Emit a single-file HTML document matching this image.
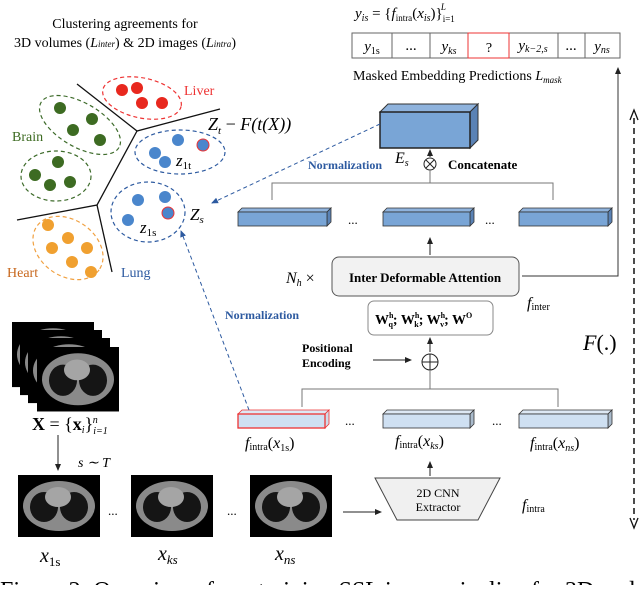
<!DOCTYPE html>
<html><head><style>
body{margin:0;background:#fff}
svg text{font-family:"Liberation Serif",serif}
.s{font-family:"Liberation Serif",serif}
.i{font-style:italic}
</style></head><body>
<svg width="640" height="585" viewBox="0 0 640 585" xmlns="http://www.w3.org/2000/svg">
<defs>
<marker id="a" markerWidth="8" markerHeight="8" refX="6" refY="4" orient="auto"><path d="M0,1 L7,4 L0,7z" fill="#222"/></marker>
<marker id="b" markerWidth="8" markerHeight="8" refX="6" refY="4" orient="auto"><path d="M0,1 L7,4 L0,7z" fill="#2d5aa0"/></marker>
<g id="ct"><rect x="0" y="0" width="82" height="62" fill="#000"/><ellipse cx="41" cy="31" rx="36" ry="25" fill="#8a8a8a"/><ellipse cx="26" cy="32" rx="14" ry="15" fill="#151515"/><ellipse cx="56" cy="32" rx="14" ry="15" fill="#151515"/><ellipse cx="40" cy="22" rx="13" ry="10" fill="#a5a5a5"/></g>
</defs>
<!-- title -->
<text x="125" y="28" font-size="14" text-anchor="middle">Clustering agreements for</text>
<text x="125" y="47" font-size="14" text-anchor="middle">3D volumes (<tspan class="i">L</tspan><tspan font-size="9" class="i">inter</tspan>) &amp; 2D images (<tspan class="i">L</tspan><tspan font-size="9" class="i">intra</tspan>)</text>
<!-- separators -->
<g stroke="#111" stroke-width="1.3" fill="none">
<path d="M77,84 L137,131 L220,109"/><path d="M137,131 L97,205 L17,220"/><path d="M97,205 L112,272"/>
</g>
<!-- clusters -->
<g fill="none" stroke-dasharray="4,3" stroke-width="1.2">
<ellipse cx="142" cy="98" rx="40" ry="20" transform="rotate(12 142 98)" stroke="#e33"/>
<ellipse cx="80" cy="125" rx="45" ry="22" transform="rotate(30 80 125)" stroke="#3d6b2a"/>
<ellipse cx="56" cy="176" rx="35" ry="25" stroke="#3d6b2a"/>
<ellipse cx="180" cy="152" rx="45" ry="22" stroke="#2d5aa0"/>
<ellipse cx="148" cy="212" rx="37" ry="30" stroke="#2d5aa0"/>
<ellipse cx="68" cy="248" rx="38" ry="28" transform="rotate(35 68 248)" stroke="#f0a040"/>
</g>
<g fill="#e8281e"><circle cx="122" cy="90" r="6"/><circle cx="137" cy="88" r="6"/><circle cx="142" cy="103" r="6"/><circle cx="162" cy="103" r="6"/></g>
<g fill="#3d6b22"><circle cx="60" cy="108" r="6"/><circle cx="92" cy="119" r="6"/><circle cx="73" cy="130" r="6"/><circle cx="100" cy="140" r="6"/><circle cx="58" cy="162" r="6"/><circle cx="35" cy="175" r="6"/><circle cx="50" cy="185" r="6"/><circle cx="70" cy="182" r="6"/></g>
<g fill="#4a86cc"><circle cx="178" cy="140" r="6"/><circle cx="155" cy="153" r="6"/><circle cx="165" cy="162" r="6"/><circle cx="203" cy="145" r="6" stroke="#e33"/><circle cx="138" cy="200" r="6"/><circle cx="165" cy="197" r="6"/><circle cx="128" cy="220" r="6"/><circle cx="168" cy="213" r="6" stroke="#e33"/></g>
<g fill="#f0a030"><circle cx="48" cy="225" r="6"/><circle cx="68" cy="238" r="6"/><circle cx="52" cy="248" r="6"/><circle cx="87" cy="248" r="6"/><circle cx="72" cy="262" r="6"/><circle cx="91" cy="272" r="6"/></g>
<text x="184" y="95" font-size="14" fill="#e33">Liver</text>
<text x="12" y="141" font-size="14" fill="#3d6b22">Brain</text>
<text x="7" y="277" font-size="14" fill="#c8681e">Heart</text>
<text x="121" y="277" font-size="14" fill="#2d5aa0">Lung</text>
<text x="208" y="130" font-size="18" class="i">Z<tspan font-size="11" dy="4">t</tspan><tspan dy="-4" font-style="normal"> − </tspan>F(t(X))</text>
<text x="176" y="166" font-size="17" class="i">z<tspan font-size="11" dy="3" font-style="normal">1t</tspan></text>
<text x="140" y="233" font-size="17" class="i">z<tspan font-size="11" dy="3" font-style="normal">1s</tspan></text>
<text x="190" y="220" font-size="17" class="i">Z<tspan font-size="11" dy="3">s</tspan></text>
<!-- token row -->
<text x="355" y="18" font-size="15" class="i">y<tspan font-size="10" dy="3">is</tspan><tspan dy="-3" font-style="normal"> = {</tspan>f<tspan font-size="9" dy="3" font-style="normal">intra</tspan><tspan dy="-3" font-style="normal">(</tspan>x<tspan font-size="10" dy="3">is</tspan><tspan dy="-3" font-style="normal">)}</tspan><tspan font-size="9" dy="4" font-style="normal">i=1</tspan><tspan font-size="9" dy="-12" dx="-14">L</tspan></text>
<g stroke="#666" fill="#fff" stroke-width="1"><rect x="352" y="33" width="268" height="25"/>
<line x1="392" y1="33" x2="392" y2="58"/><line x1="430" y1="33" x2="430" y2="58"/><line x1="558" y1="33" x2="558" y2="58"/><line x1="585" y1="33" x2="585" y2="58"/></g>
<rect x="468" y="33" width="41" height="25" fill="none" stroke="#e33"/>
<g font-size="15" text-anchor="middle"><text x="372" y="51" class="i">y<tspan font-size="10" dy="3" font-style="normal">1s</tspan></text><text x="411" y="50">...</text><text x="449" y="51" class="i">y<tspan font-size="10" dy="3">ks</tspan></text><text x="489" y="52" font-size="14">?</text><text x="533" y="50" class="i">y<tspan font-size="10" dy="2">k−2,s</tspan></text><text x="571" y="50">...</text><text x="602" y="51" class="i">y<tspan font-size="10" dy="2">ns</tspan></text></g>
<text x="353" y="80" font-size="14">Masked Embedding Predictions <tspan class="i">L</tspan><tspan font-size="9" class="i" dy="3">mask</tspan></text>
<!-- Es box -->
<path d="M380,112 L388,104 L478,104 L470,112z" fill="#8fb3dd" stroke="#333"/>
<path d="M470,112 L478,104 L478,140 L470,148z" fill="#5a82b5" stroke="#333"/>
<rect x="380" y="112" width="90" height="36" fill="#79a5d6" stroke="#222" stroke-width="1.5"/>
<text x="395" y="163" font-size="16" class="i">E<tspan font-size="10" dy="3">s</tspan></text>
<circle cx="430" cy="164" r="6" fill="none" stroke="#222"/><path d="M426,160 L434,168 M434,160 L426,168" stroke="#222"/>
<line x1="430" y1="157" x2="430" y2="150" stroke="#222" marker-end="url(#a)"/>
<text x="448" y="169" font-size="13" font-weight="bold">Concatenate</text>
<text x="308" y="169" font-size="12" font-weight="bold" fill="#2d5aa0">Normalization</text>
<g stroke="#777" fill="none"><path d="M272,200 L272,183 L553,183 L553,200"/><line x1="430" y1="183" x2="430" y2="170"/></g>
<!-- middle bars -->
<g stroke="#333" stroke-width="0.8">
<g><path d="M238,212 L242,208 L331,208 L327,212z" fill="#8fb3dd"/><path d="M327,212 L331,208 L331,222 L327,226z" fill="#5a82b5"/><rect x="238" y="212" width="89" height="14" fill="#79a5d6"/></g>
<g><path d="M383,212 L387,208 L474,208 L470,212z" fill="#8fb3dd"/><path d="M470,212 L474,208 L474,222 L470,226z" fill="#5a82b5"/><rect x="383" y="212" width="87" height="14" fill="#79a5d6"/></g>
<g><path d="M519,212 L523,208 L612,208 L608,212z" fill="#8fb3dd"/><path d="M608,212 L612,208 L612,222 L608,226z" fill="#5a82b5"/><rect x="519" y="212" width="89" height="14" fill="#79a5d6"/></g>
</g>
<text x="348" y="224" font-size="13">...</text><text x="485" y="224" font-size="13">...</text>
<line x1="430" y1="255" x2="430" y2="238" stroke="#222" marker-end="url(#a)"/>
<rect x="332" y="257" width="187" height="39" rx="7" fill="#f2f2f2" stroke="#555"/>
<text x="425" y="282" font-size="13" font-weight="bold" text-anchor="middle">Inter Deformable Attention</text>
<text x="286" y="283" font-size="16" class="i">N<tspan font-size="10" dy="3">h</tspan><tspan dy="-3" font-style="normal"> ×</tspan></text>
<path d="M522,276 L618,276 L618,68" fill="none" stroke="#333" marker-end="url(#a)"/>
<text x="527" y="308" font-size="16" class="i">f<tspan font-size="10" dy="2" font-style="normal">inter</tspan></text>
<!-- W box -->
<rect x="368" y="301" width="125" height="34" rx="6" fill="#fff" stroke="#888"/>
<text x="375" y="324" font-size="14" font-weight="bold">W<tspan font-size="8" dy="-6">h</tspan><tspan font-size="8" dy="9" dx="-5">q</tspan><tspan dy="-3">; W</tspan><tspan font-size="8" dy="-6">h</tspan><tspan font-size="8" dy="9" dx="-5">k</tspan><tspan dy="-3">; W</tspan><tspan font-size="8" dy="-6">h</tspan><tspan font-size="8" dy="9" dx="-5">v</tspan><tspan dy="-3">; W</tspan><tspan font-size="8" dy="-6">O</tspan></text>
<line x1="430" y1="352" x2="430" y2="338" stroke="#222" marker-end="url(#a)"/>
<text x="302" y="352" font-size="12" font-weight="bold">Positional</text><text x="302" y="367" font-size="12" font-weight="bold">Encoding</text>
<line x1="373" y1="360" x2="411" y2="360" stroke="#222" marker-end="url(#a)"/>
<circle cx="430" cy="362" r="8" fill="none" stroke="#222"/><path d="M422,362 L438,362 M430,354 L430,370" stroke="#222"/>
<g stroke="#777" fill="none"><path d="M302,407 L302,389 L558,389 L558,407"/><line x1="430" y1="389" x2="430" y2="370"/></g>
<!-- bottom bars -->
<g stroke="#333" stroke-width="0.8">
<g><path d="M238,414 L242,410 L329,410 L325,414z" fill="#dde8f4" stroke="#e33"/><path d="M325,414 L329,410 L329,424 L325,428z" fill="#cfdcea" stroke="#e33"/><rect x="238" y="414" width="87" height="14" fill="#cfe0f2" stroke="#e33" stroke-width="1.3"/></g>
<g><path d="M383,414 L387,410 L474,410 L470,414z" fill="#dde8f4"/><path d="M470,414 L474,410 L474,424 L470,428z" fill="#aabbcc"/><rect x="383" y="414" width="87" height="14" fill="#cfe0f2"/></g>
<g><path d="M519,414 L523,410 L612,410 L608,414z" fill="#dde8f4"/><path d="M608,414 L612,410 L612,424 L608,428z" fill="#aabbcc"/><rect x="519" y="414" width="89" height="14" fill="#cfe0f2"/></g>
</g>
<text x="345" y="425" font-size="13">...</text><text x="492" y="425" font-size="13">...</text>
<g font-size="16" class="i"><text x="245" y="448">f<tspan font-size="10" dy="2" font-style="normal">intra</tspan><tspan dy="-2" font-style="normal">(</tspan>x<tspan font-size="10" dy="3" font-style="normal">1s</tspan><tspan dy="-3" font-style="normal">)</tspan></text>
<text x="395" y="446">f<tspan font-size="10" dy="2" font-style="normal">intra</tspan><tspan dy="-2" font-style="normal">(</tspan>x<tspan font-size="10" dy="3">ks</tspan><tspan dy="-3" font-style="normal">)</tspan></text>
<text x="530" y="448">f<tspan font-size="10" dy="2" font-style="normal">intra</tspan><tspan dy="-2" font-style="normal">(</tspan>x<tspan font-size="10" dy="3">ns</tspan><tspan dy="-3" font-style="normal">)</tspan></text></g>
<line x1="430" y1="476" x2="430" y2="462" stroke="#222" marker-end="url(#a)"/>
<path d="M375,478 L500,478 L478,520 L397,520z" fill="#f0f0f0" stroke="#444"/>
<text x="438" y="497" font-size="12" text-anchor="middle" font-family="Liberation Sans">2D CNN</text>
<text x="438" y="511" font-size="12" text-anchor="middle" font-family="Liberation Sans">Extractor</text>
<text x="522" y="510" font-size="16" class="i">f<tspan font-size="10" dy="2" font-style="normal">intra</tspan></text>
<text x="583" y="350" font-size="22" class="i">F<tspan font-style="normal">(.)</tspan></text>
<line x1="634" y1="118" x2="634" y2="520" stroke="#111" stroke-width="1.5" stroke-dasharray="6,4"/>
<path d="M630,120 L634,110 L638,120 M630,518 L634,528 L638,518" fill="none" stroke="#111" stroke-width="1.3"/>
<!-- dashed normalization lines -->
<line x1="380" y1="124" x2="212" y2="203" stroke="#2d5aa0" stroke-dasharray="4,3" marker-end="url(#b)"/>
<line x1="249" y1="410" x2="181" y2="231" stroke="#2d5aa0" stroke-dasharray="4,3" marker-end="url(#b)"/>
<text x="225" y="319" font-size="12" font-weight="bold" fill="#2d5aa0">Normalization</text>
<!-- CT stack -->
<use href="#ct" transform="translate(12,322) scale(1,1.05)"/>
<use href="#ct" transform="translate(20,330) scale(1,1.05)"/>
<use href="#ct" transform="translate(28,338) scale(1,1.05)"/>
<use href="#ct" transform="translate(37,347) scale(1,1.04)"/>
<text x="32" y="430" font-size="18"><tspan font-weight="bold">X</tspan> = {<tspan font-weight="bold">x</tspan><tspan font-size="10" class="i" dy="3">i</tspan><tspan dy="-3">}</tspan><tspan font-size="10" dy="4" class="i">i=1</tspan><tspan font-size="10" dy="-11" dx="-15" class="i">n</tspan></text>
<line x1="58" y1="435" x2="58" y2="470" stroke="#222" marker-end="url(#a)"/>
<text x="78" y="467" font-size="14" class="i">s ∼ T</text>
<use href="#ct" transform="translate(18,475)"/>
<use href="#ct" transform="translate(131,475)"/>
<use href="#ct" transform="translate(250,475)"/>
<text x="108" y="515" font-size="13">...</text><text x="227" y="515" font-size="13">...</text>
<line x1="343" y1="512" x2="381" y2="512" stroke="#222" marker-end="url(#a)"/>
<g font-size="20" class="i"><text x="40" y="562">x<tspan font-size="13" dy="4" font-style="normal">1s</tspan></text><text x="158" y="560">x<tspan font-size="13" dy="4">ks</tspan></text><text x="275" y="560">x<tspan font-size="13" dy="4">ns</tspan></text></g>
<text x="0" y="598" font-size="24">Figure 2: Overview of our training SSL in our pipeline for 3D and</text>
</svg>
</body></html>
